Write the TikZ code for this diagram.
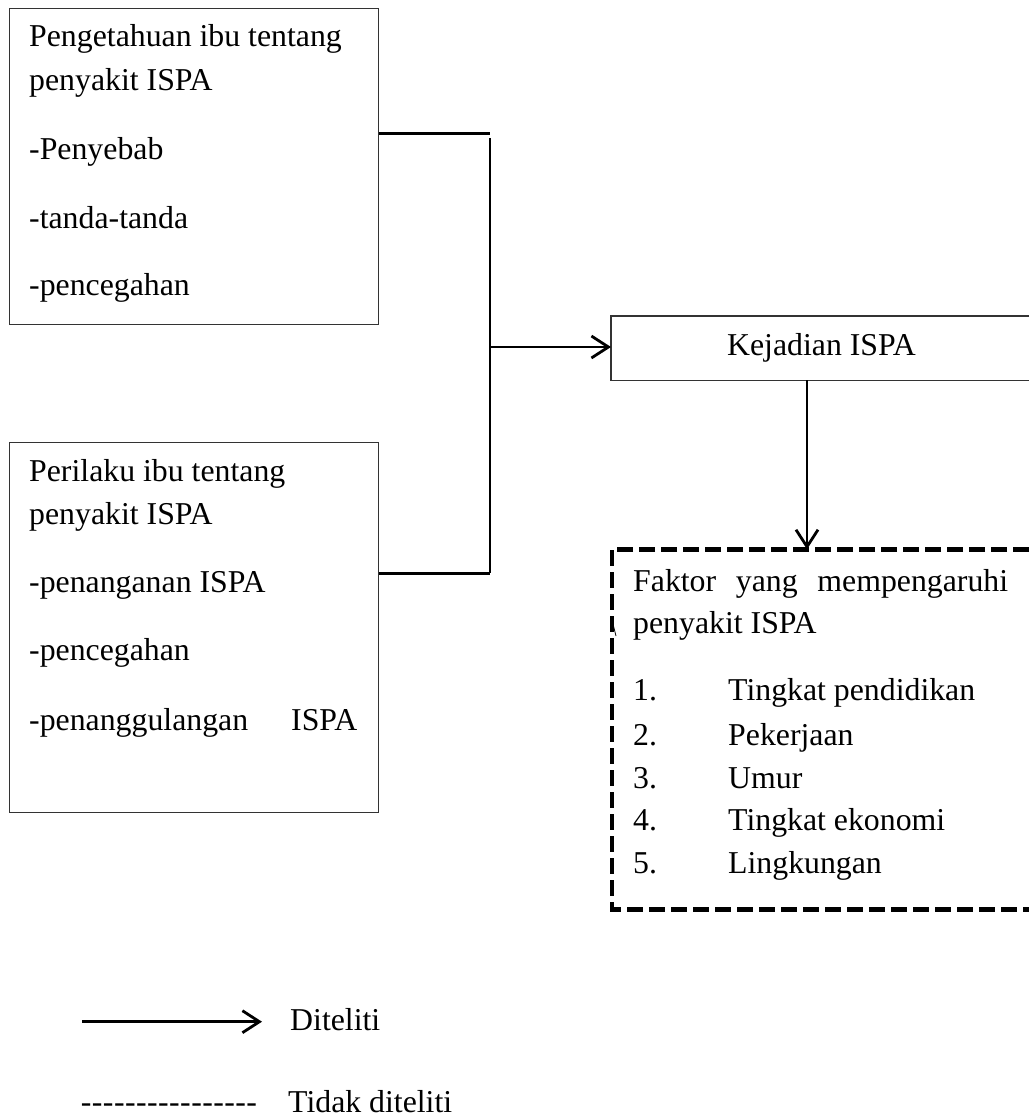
\documentclass[tikz,border=0pt]{standalone}
\usepackage{fontspec}
\setmainfont{Liberation Serif}
\usetikzlibrary{arrows.meta}
\newcommand\onehy{\mbox{-}\kern0.45pt}
\begin{document}
\begin{tikzpicture}[x=1pt,y=-1pt,
  txt/.style={anchor=base west, inner sep=0pt, font=\fontsize{31.8}{38}\selectfont},
  ctxt/.style={anchor=base, inner sep=0pt, font=\fontsize{31.8}{38}\selectfont},
  boxl/.style={draw=black!80, line width=1.4pt},
  conn/.style={line width=2.8pt, line cap=butt},
  arr/.style={conn, -{Straight Barb[length=17pt, width=22pt, line width=2.8pt]}},
  dashbox/.style={line width=4.5pt, dash pattern=on 16pt off 6pt}
]
\useasboundingbox[fill=white] (0,0) rectangle (1029,1120);

% left boxes
\node[boxl, anchor=north west, inner sep=0pt, minimum width=369pt, minimum height=316pt] (b1) at (9,8) {};
\node[boxl, anchor=north west, inner sep=0pt, minimum width=369pt, minimum height=370pt] (b2) at (9,442) {};

\node[txt] (t11) at (29,46.7) {Pengetahuan ibu tentang};
\node[txt] (t12) at (29,90.7) {penyakit ISPA};
\node[txt] (t13) at (29,159) {-Penyebab};
\node[txt] (t14) at (29,228) {-tanda-tanda};
\node[txt] (t15) at (29,295) {-pencegahan};

\node[txt] (t21) at (29,481.7) {Perilaku ibu tentang};
\node[txt] (t22) at (29,524) {penyakit ISPA};
\node[txt] (t23) at (29,592.7) {-penanganan ISPA};
\node[txt] (t24) at (29,660.7) {-pencegahan};
\node[txt] (t25) at (29,730) {\makebox[328pt][s]{-penanggulangan ISPA}};

% junction
\coordinate (j1) at (490,133.3);
\coordinate (jtop) at (490,138);
\coordinate (j2) at (490,573.3);
\coordinate (j3) at (490,347);
\draw[conn] (b1.east |- j1) -- (j1);
\draw[conn] (jtop) -- (j2);
\draw[conn] (b2.east |- j2) -- (j2);

% Kejadian box (runs off the right edge)
\coordinate (kejNW) at (611,316);
\coordinate (kejSW) at (611,380.3);
\draw[boxl] (1029,316) -- (kejNW) -- (kejSW) -- (1029,380.3);
\node[ctxt] (kej) at (821.5,355) {Kejadian ISPA};
\draw[arr] (j3) -- (kejNW |- j3);

% dashed box (runs off the right edge)
\coordinate (fNW) at (612,549.3);
\coordinate (fSW) at (612,909.3);
\coordinate (kdown) at (807,380.3);
\coordinate (ftop) at (807,549.3);
\draw[dashbox] (1029,549.3) -- (fNW) -- (fSW) -- (1029,909.3);
\draw[arr] (kdown) -- (ftop);
\draw[line width=0.8pt] (613,624) -- (616,636);

\node[txt] (f1) at (633,591.7) {\makebox[375pt][s]{Faktor yang mempengaruhi}};
\node[txt] (f2) at (633,633.3) {penyakit ISPA};
\node[txt] (n1) at (633,700) {1.};
\node[txt] (i1) at (728,700) {Tingkat pendidikan};
\node[txt] (n2) at (633,745) {2.};
\node[txt] (i2) at (728,745) {Pekerjaan};
\node[txt] (n3) at (633,788.3) {3.};
\node[txt] (i3) at (728,788.3) {Umur};
\node[txt] (n4) at (633,830) {4.};
\node[txt] (i4) at (728,830) {Tingkat ekonomi};
\node[txt] (n5) at (633,873) {5.};
\node[txt] (i5) at (728,873) {Lingkungan};

% legend
\coordinate (la) at (82,1021.7);
\coordinate (lb) at (262,1021.7);
\draw[arr] (la) -- (lb);
\node[txt] (l1) at (290,1030.7) {Diteliti};
\node[txt] (lh) at (80.7,1112) {\onehy\onehy\onehy\onehy\onehy\onehy\onehy\onehy\onehy\onehy\onehy\onehy\onehy\onehy\onehy\onehy};
\node[txt] (l2) at (288,1112) {Tidak diteliti};
\end{tikzpicture}
\end{document}
